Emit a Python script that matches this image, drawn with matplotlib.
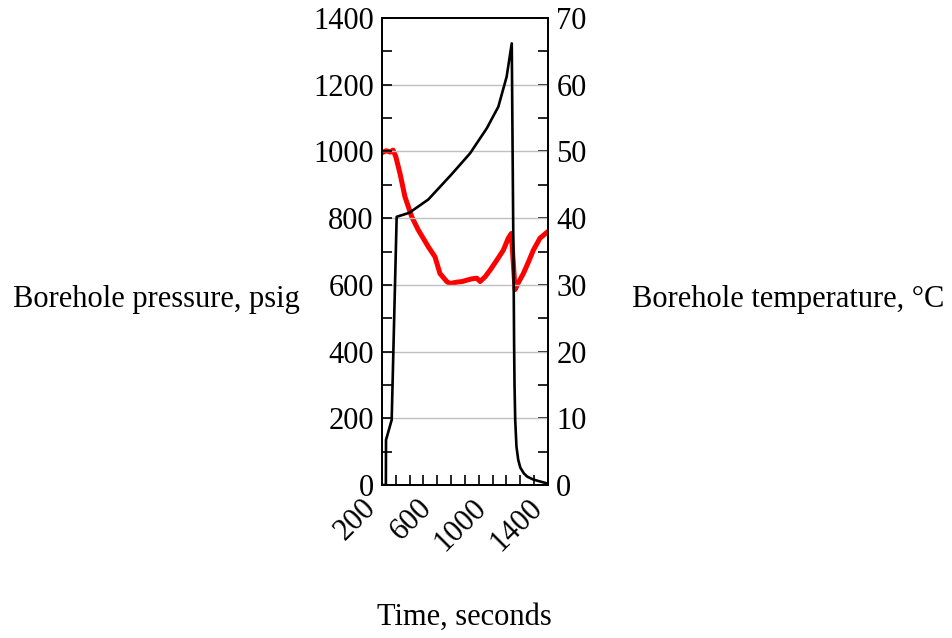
import matplotlib
matplotlib.use("Agg")
import matplotlib.pyplot as plt
from matplotlib.ticker import MultipleLocator, FixedLocator

plt.rcParams['font.family'] = ['Liberation Serif', 'DejaVu Serif']

# Borehole pressure (psig) against time (s)
time_p = [200, 228, 229, 270, 306, 397, 535, 700, 836, 957, 1041, 1101, 1138,
          1148, 1152, 1155, 1158, 1163, 1172, 1185, 1200, 1225, 1250, 1290,
          1330, 1391, 1400]
pressure = [0, 0, 135, 195, 804, 816, 856, 930, 994, 1069, 1134, 1224, 1324,
            800, 600, 420, 300, 195, 115, 75, 52, 35, 25, 17, 12, 5, 3]

# Borehole temperature (°C) against time (s)
time_t = [200, 230, 260, 280, 300, 330, 366, 415, 463, 535, 583, 619, 668, 692,
          740, 780, 812, 850, 885, 909, 945, 981, 1030, 1077, 1113, 1135, 1162,
          1190, 1222, 1260, 1294, 1342, 1400]
temperature = [49.8, 50.1, 49.9, 50.2, 49.2, 46.7, 43.2, 40.2, 38.2, 35.7,
               34.2, 31.7, 30.5, 30.2, 30.4, 30.5, 30.7, 30.9, 31.0, 30.5, 31.2,
               32.2, 33.7, 35.2, 37.0, 37.7, 29.3, 30.5, 31.7, 33.5, 35.2, 37.0,
               38.0]

x_ticks = [200, 600, 1000, 1400]
p_ticks = [0, 200, 400, 600, 800, 1000, 1200, 1400]
t_ticks = [0, 10, 20, 30, 40, 50, 60, 70]

fig = plt.figure(figsize=(9.53, 6.38), dpi=100)
ax = fig.add_axes([382/953, 1-485/638, 166/953, 467/638])
ax2 = ax.twinx()

fs = 22
ax.set_xlim(200, 1400)
ax.set_ylim(0, 1400)
ax2.set_ylim(0, 70)

for y in p_ticks[1:-1]:
    ax.axhline(y, color='#c0c0c0', lw=1.0, zorder=0)

ax2.plot(time_t, temperature, color='#ff0000', lw=3.6, zorder=2)
ax.plot(time_p, pressure, color='black', lw=1.9, zorder=3)
ax.set_zorder(ax2.get_zorder() + 1)
ax.patch.set_visible(False)

ax.xaxis.set_major_locator(FixedLocator(x_ticks))
ax.xaxis.set_minor_locator(MultipleLocator(100))
ax.set_xticklabels([str(v) for v in x_ticks], rotation=45, ha='right')
ax.yaxis.set_major_locator(FixedLocator(p_ticks))
ax.yaxis.set_minor_locator(MultipleLocator(100))
ax.set_yticklabels([str(v) for v in p_ticks])
ax2.yaxis.set_major_locator(FixedLocator(t_ticks))
ax2.yaxis.set_minor_locator(MultipleLocator(5))
ax2.set_yticklabels([str(v) for v in t_ticks])

for a in (ax, ax2):
    a.tick_params(which='both', direction='in', length=7.5, width=1.2,
                  labelsize=fs, pad=6, top=False)
    for s in a.spines.values():
        s.set_linewidth(1.3)
ax.tick_params(which='both', right=False)
ax2.tick_params(which='both', left=False, bottom=False)

fig.text(13/953, 1-300/638, 'Borehole pressure, psig', fontsize=fs,
         ha='left', va='center')
fig.text(632/953, 1-300/638, 'Borehole temperature, °C', fontsize=fs,
         ha='left', va='center')
fig.text(464/953, 1-617/638, 'Time, seconds', fontsize=fs,
         ha='center', va='center')

fig.savefig('out.png', dpi=100)
